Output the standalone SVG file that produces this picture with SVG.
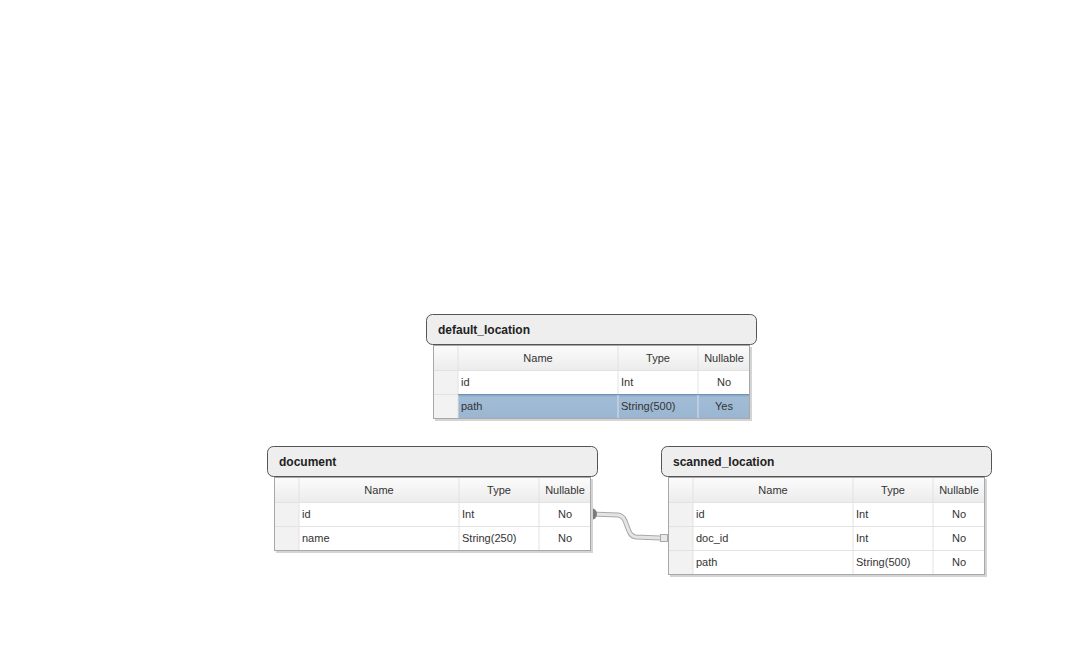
<svg xmlns="http://www.w3.org/2000/svg" width="1072" height="660" viewBox="0 0 1072 660">
<defs>
<linearGradient id="hdrRow" x1="0" y1="0" x2="0" y2="1">
<stop offset="0" stop-color="#fbfbfb"/>
<stop offset="1" stop-color="#ececec"/>
</linearGradient>
<linearGradient id="sel" x1="0" y1="0" x2="0" y2="1">
<stop offset="0" stop-color="#7f9fc1"/>
<stop offset="0.15" stop-color="#a2bcd6"/>
<stop offset="1" stop-color="#9bb6d2"/>
</linearGradient>
<style>
.title{fill:#eeeeee;stroke:#555555;stroke-width:1}
.tbl{fill:#ffffff;stroke:#a8a8a8;stroke-width:1}
.shadow{fill:#d4d4d4}
.hrow{fill:url(#hdrRow)}
.gut{fill:#f2f2f2}
.grid{stroke:#e2e2e2;stroke-width:1;fill:none}
.ttl{font-family:"Liberation Sans",Arial,sans-serif;font-size:12px;font-weight:bold;fill:#222222}
.c{font-family:"Liberation Sans",Arial,sans-serif;font-size:11px;fill:#333333}
.m{text-anchor:middle}
.selrow{fill:url(#sel)}
</style>
</defs>
<rect width="1072" height="660" fill="#ffffff"/>

<g id="connectors">
<path d="M591,514 L618,515 C629,516 625,536 636,537 L660,538" fill="none" stroke="#a9a9a9" stroke-width="5"/>
<path d="M591,514 L618,515 C629,516 625,536 636,537 L660,538" fill="none" stroke="#e4e4e4" stroke-width="3"/>
<rect x="660.5" y="534.5" width="7" height="7" fill="#e8e8e8" stroke="#a9a9a9" stroke-width="1"/>
<path d="M591,508 A6,6 0 0 1 591,520 Z" fill="#7a7a7a"/>
</g>

<g id="default_location">
<rect x="435" y="347" width="317" height="74" class="shadow"/>
<rect x="433.5" y="345.5" width="316" height="73" class="tbl"/>
<rect x="434" y="346" width="315" height="24" class="hrow"/>
<rect x="434" y="370" width="24" height="48" class="gut"/>
<rect x="458" y="394" width="291" height="24" class="selrow"/>
<path class="grid" d="M458,346V418M618,346V418M698,346V418M434,370.5H749M434,394.5H458"/>
<path d="M458,394.5H749" stroke="#6f8fb3" stroke-width="1"/>
<path d="M618,395V418M698,395V418" stroke="#b8cadd" stroke-width="1"/>
<rect x="426.5" y="314.5" width="330" height="30" rx="6" class="title"/>
<text x="438" y="334" class="ttl">default_location</text>
<text x="538" y="362" class="c m">Name</text>
<text x="658" y="362" class="c m">Type</text>
<text x="724" y="362" class="c m">Nullable</text>
<text x="461" y="386" class="c">id</text>
<text x="621" y="386" class="c">Int</text>
<text x="724" y="386" class="c m">No</text>
<text x="461" y="410" class="c">path</text>
<text x="621" y="410" class="c">String(500)</text>
<text x="724" y="410" class="c m">Yes</text>
</g>

<g id="document">
<rect x="276" y="479" width="317" height="74" class="shadow"/>
<rect x="274.5" y="477.5" width="316" height="73" class="tbl"/>
<rect x="275" y="478" width="315" height="24" class="hrow"/>
<rect x="275" y="502" width="24" height="48" class="gut"/>
<path class="grid" d="M299,478V550M459,478V550M539,478V550M275,502.5H590M275,526.5H590"/>
<rect x="267.5" y="446.5" width="330" height="30" rx="6" class="title"/>
<text x="279" y="466" class="ttl">document</text>
<text x="379" y="494" class="c m">Name</text>
<text x="499" y="494" class="c m">Type</text>
<text x="565" y="494" class="c m">Nullable</text>
<text x="302" y="518" class="c">id</text>
<text x="462" y="518" class="c">Int</text>
<text x="565" y="518" class="c m">No</text>
<text x="302" y="542" class="c">name</text>
<text x="462" y="542" class="c">String(250)</text>
<text x="565" y="542" class="c m">No</text>
</g>

<g id="scanned_location">
<rect x="670" y="479" width="317" height="98" class="shadow"/>
<rect x="668.5" y="477.5" width="316" height="97" class="tbl"/>
<rect x="669" y="478" width="315" height="24" class="hrow"/>
<rect x="669" y="502" width="24" height="72" class="gut"/>
<path class="grid" d="M693,478V574M853,478V574M933,478V574M669,502.5H984M669,526.5H984M669,550.5H984"/>
<rect x="661.5" y="446.5" width="330" height="30" rx="6" class="title"/>
<text x="673" y="466" class="ttl">scanned_location</text>
<text x="773" y="494" class="c m">Name</text>
<text x="893" y="494" class="c m">Type</text>
<text x="959" y="494" class="c m">Nullable</text>
<text x="696" y="518" class="c">id</text>
<text x="856" y="518" class="c">Int</text>
<text x="959" y="518" class="c m">No</text>
<text x="696" y="542" class="c">doc_id</text>
<text x="856" y="542" class="c">Int</text>
<text x="959" y="542" class="c m">No</text>
<text x="696" y="566" class="c">path</text>
<text x="856" y="566" class="c">String(500)</text>
<text x="959" y="566" class="c m">No</text>
</g>
</svg>
